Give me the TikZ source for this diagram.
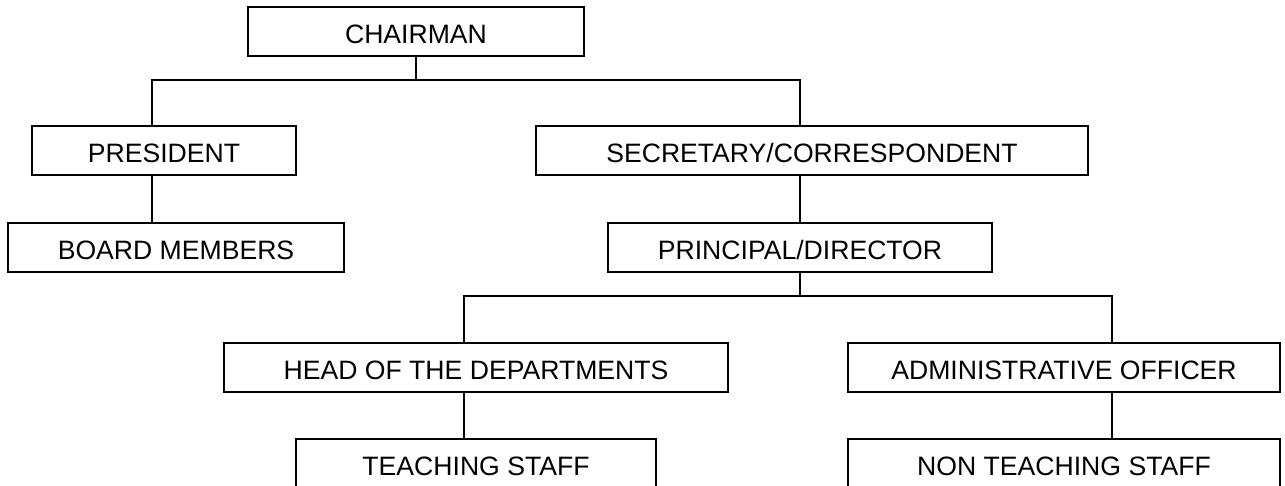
\documentclass[tikz,border=0pt]{standalone}
\usepackage{fontspec}
\setmainfont{Liberation Sans}

\begin{document}
\begin{tikzpicture}[x=0.5pt, y=-0.5pt, line width=1pt,
    role/.style={draw, inner sep=0pt, minimum height=24.5pt, text height=12pt, text depth=0pt,
                 font=\fontsize{13.3}{16}\selectfont}]
         \path[use as bounding box, clip] (0,0) rectangle (1285,486);
         \node[role, minimum width=168pt] (chair) at (416,31.5) {CHAIRMAN};  %top node
         \node[role, minimum width=132pt] (pres) at (164,151) {PRESIDENT};
         \node[role, minimum width=276pt] (sec) at (812,151) {SECRETARY/CORRESPONDENT};
         \node[role, minimum width=168pt] (board) at (176,247.5) {BOARD MEMBERS};
         \node[role, minimum width=192pt] (prin) at (800,247.5) {PRINCIPAL/DIRECTOR};
         \node[role, minimum width=252pt] (head) at (476,367.5) {HEAD OF THE DEPARTMENTS};
         \node[role, minimum width=216pt] (admin) at (1064,367.5) {ADMINISTRATIVE OFFICER};
         \node[role, minimum width=180pt] (teach) at (476,463.5) {TEACHING STAFF};
         \node[role, minimum width=216pt] (nonteach) at (1064,463.5) {NON TEACHING STAFF};

         % branch points
         \coordinate (j1) at ([yshift=-11.5pt]chair.south);
         \coordinate (j2) at ([yshift=-11.5pt]prin.south);

         \draw (chair.south) -- (j1);
         \draw ([xshift=-6pt]pres.north) |- (j1) -| ([xshift=-6pt]sec.north);
         \draw ([xshift=-6pt]pres.south) -- ([xshift=-12pt]board.north);
         \draw ([xshift=-6pt]sec.south) -- (prin.north);
         \draw (prin.south) -- (j2);
         \draw ([xshift=-6pt]head.north) |- (j2) -| ([xshift=24pt]admin.north);
         \draw ([xshift=-6pt]head.south) -- ([xshift=-6pt]teach.north);
         \draw ([xshift=24pt]admin.south) -- ([xshift=24pt]nonteach.north);
       \end{tikzpicture}
\end{document}
